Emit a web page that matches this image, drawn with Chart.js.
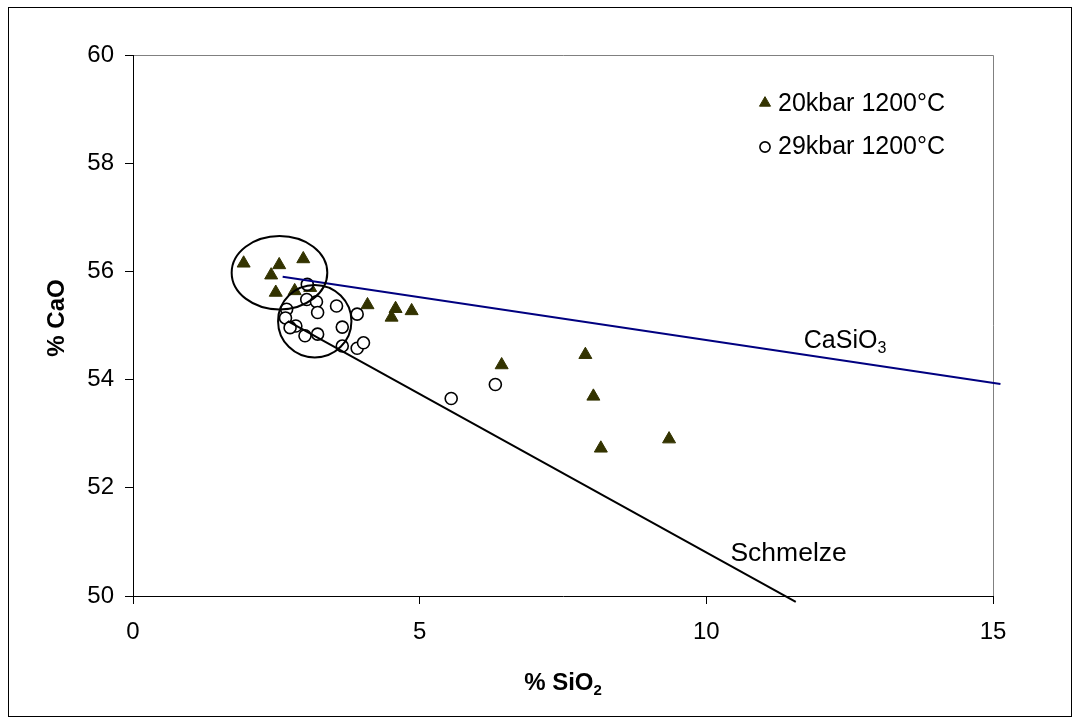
<!DOCTYPE html>
<html>
<head>
<meta charset="utf-8">
<script src="https://cdn.jsdelivr.net/npm/chart.js@4/dist/chart.umd.min.js"></script>
<style>
  html, body { margin: 0; padding: 0; background: #fff; }
  canvas { display: block; }
</style>
</head>
<body>
<canvas id="chart" width="1079" height="724"></canvas>
<script>
// --- Data (% SiO2 vs % CaO) ---
const seriesNames = ['20kbar 1200°C', '29kbar 1200°C'];

const kbar20SiO2 = [1.93, 2.55, 2.97, 2.41, 2.49, 2.82, 3.09, 4.09, 4.58, 4.51, 4.86, 6.43, 7.89, 8.03, 9.35, 8.16];
const kbar20CaO  = [56.15, 56.12, 56.23, 55.93, 55.61, 55.64, 55.70, 55.38, 55.31, 55.15, 55.27, 54.27, 54.46, 53.69, 52.90, 52.73];

const kbar29SiO2 = [3.04, 3.03, 3.20, 3.22, 3.55, 3.91, 2.68, 2.66, 2.84, 2.74, 3.00, 3.22, 3.65, 3.65, 3.91, 4.02, 6.32, 5.55];
const kbar29CaO  = [55.76, 55.48, 55.44, 55.24, 55.36, 55.21, 55.30, 55.14, 54.99, 54.96, 54.81, 54.84, 54.97, 54.62, 54.58, 54.68, 53.91, 53.65];

// reference lines
const caSiO3SiO2 = [2.61, 15.13];
const caSiO3CaO  = [55.90, 53.92];
const meltSiO2   = [2.70, 11.56];
const meltCaO    = [55.08, 49.89];

// circled groups (centre and half-axes in data units)
const groupCx = [2.555, 3.17];
const groupCy = [55.976, 55.08];
const groupRx = [0.834, 0.64];
const groupRy = [0.678, 0.67];

const xTicks = [0, 5, 10, 15];
const yTicks = [50, 52, 54, 56, 58, 60];

const toPoints = (xs, ys) => xs.map((x, i) => ({ x: x, y: ys[i] }));

const FONT = "'Liberation Sans', Arial, sans-serif";

// text with optional subscript parts
function drawRich(ctx, parts, x, y, size, bold, align) {
  const weight = bold ? 'bold ' : '';
  let total = 0;
  const widths = parts.map(p => {
    ctx.font = weight + (p.sub ? Math.round(size * 0.62) : size) + 'px ' + FONT;
    const w = ctx.measureText(p.t).width;
    total += w;
    return w;
  });
  let cx = align === 'center' ? x - total / 2 : x;
  ctx.textAlign = 'left';
  ctx.textBaseline = 'alphabetic';
  parts.forEach((p, i) => {
    ctx.font = weight + (p.sub ? Math.round(size * 0.62) : size) + 'px ' + FONT;
    ctx.fillText(p.t, cx, p.sub ? y + size * 0.2 : y);
    cx += widths[i];
  });
}

const decorations = {
  id: 'decorations',
  beforeDraw(chart) {
    const { ctx, chartArea: a } = chart;
    ctx.save();
    ctx.fillStyle = '#fff';
    ctx.fillRect(0, 0, chart.width, chart.height);
    // outer frame
    ctx.strokeStyle = '#000';
    ctx.lineWidth = 1;
    ctx.strokeRect(8.5, 7.5, 1063, 709);
    // plot frame (top/right)
    ctx.strokeStyle = '#808080';
    ctx.beginPath();
    ctx.moveTo(a.left, a.top + 0.5);
    ctx.lineTo(a.right + 0.5, a.top + 0.5);
    ctx.lineTo(a.right + 0.5, a.bottom);
    ctx.stroke();
    ctx.restore();
  },
  afterDatasetsDraw(chart) {
    const { ctx, scales: { x, y } } = chart;
    ctx.save();
    // circled groups
    ctx.strokeStyle = '#000';
    ctx.lineWidth = 2;
    for (let i = 0; i < groupCx.length; i++) {
      const px = x.getPixelForValue(groupCx[i]);
      const py = y.getPixelForValue(groupCy[i]);
      const rx = x.getPixelForValue(groupCx[i] + groupRx[i]) - px;
      const ry = py - y.getPixelForValue(groupCy[i] + groupRy[i]);
      ctx.beginPath();
      ctx.ellipse(px, py, rx, ry, 0, 0, Math.PI * 2);
      ctx.stroke();
    }
    ctx.fillStyle = '#000';
    // line labels
    drawRich(ctx, [{ t: 'CaSiO' }, { t: '3', sub: true }],
      x.getPixelForValue(11.70), y.getPixelForValue(54.59), 25, false, 'left');
    drawRich(ctx, [{ t: 'Schmelze' }],
      x.getPixelForValue(10.42), y.getPixelForValue(50.65), 26.5, false, 'left');

    // legend
    const lx = 765, ly = [103, 147], ty = [111, 154];
    [0, 1].forEach(i => {
      const ds = chart.data.datasets[i];
      ctx.fillStyle = ds.backgroundColor;
      ctx.strokeStyle = ds.borderColor;
      ctx.lineWidth = ds.borderWidth;
      Chart.helpers.drawPoint(ctx, {
        pointStyle: ds.pointStyle, radius: ds.pointRadius * 0.85, rotation: 0, borderWidth: ds.borderWidth
      }, lx, ly[i]);
      ctx.fillStyle = '#000';
      drawRich(ctx, [{ t: seriesNames[i] }], 778, ty[i], 25, false, 'left');
    });

    // axis titles
    const a = chart.chartArea;
    drawRich(ctx, [{ t: '% SiO' }, { t: '2', sub: true }], (a.left + a.right) / 2, 690, 24, true, 'center');
    ctx.translate(64, 318);
    ctx.rotate(-Math.PI / 2);
    drawRich(ctx, [{ t: '% CaO' }], 0, 0, 24, true, 'center');
    ctx.restore();
  }
};

new Chart(document.getElementById('chart'), {
  type: 'scatter',
  data: {
    datasets: [
      {
        label: seriesNames[0],
        data: toPoints(kbar20SiO2, kbar20CaO),
        pointStyle: 'triangle',
        pointRadius: 7.5,
        backgroundColor: '#333300',
        borderColor: '#333300',
        borderWidth: 1,
        order: 4
      },
      {
        label: seriesNames[1],
        data: toPoints(kbar29SiO2, kbar29CaO),
        pointStyle: 'circle',
        pointRadius: 6,
        backgroundColor: '#ffffff',
        borderColor: '#000000',
        borderWidth: 1.6,
        order: 3
      },
      {
        label: 'CaSiO3',
        data: toPoints(caSiO3SiO2, caSiO3CaO),
        showLine: true,
        pointRadius: 0,
        borderColor: '#000080',
        borderWidth: 2,
        clip: false,
        order: 2
      },
      {
        label: 'Schmelze',
        data: toPoints(meltSiO2, meltCaO),
        showLine: true,
        pointRadius: 0,
        borderColor: '#000000',
        borderWidth: 2,
        clip: false,
        order: 1
      }
    ]
  },
  options: {
    responsive: false,
    animation: false,
    events: [],
    layout: { padding: { top: 55, right: 86, left: 0, bottom: 0 } },
    plugins: { legend: { display: false }, tooltip: { enabled: false } },
    scales: {
      x: {
        type: 'linear',
        min: 0, max: 15,
        afterBuildTicks: s => { s.ticks = xTicks.map(v => ({ value: v })); },
        afterFit: s => { s.height = 128; },
        grid: { drawOnChartArea: false, drawTicks: true, tickLength: 8, color: '#000' },
        border: { display: true, color: '#000', width: 1 },
        ticks: { color: '#000', padding: 14, font: { family: FONT, size: 24 } }
      },
      y: {
        type: 'linear',
        min: 50, max: 60,
        afterBuildTicks: s => { s.ticks = yTicks.map(v => ({ value: v })); },
        afterFit: s => { s.width = 133; },
        grid: { drawOnChartArea: false, drawTicks: true, tickLength: 8, color: '#000' },
        border: { display: true, color: '#000', width: 1 },
        ticks: { color: '#000', padding: 11, font: { family: FONT, size: 24 } }
      }
    }
  },
  plugins: [decorations]
});
</script>
</body>
</html>
